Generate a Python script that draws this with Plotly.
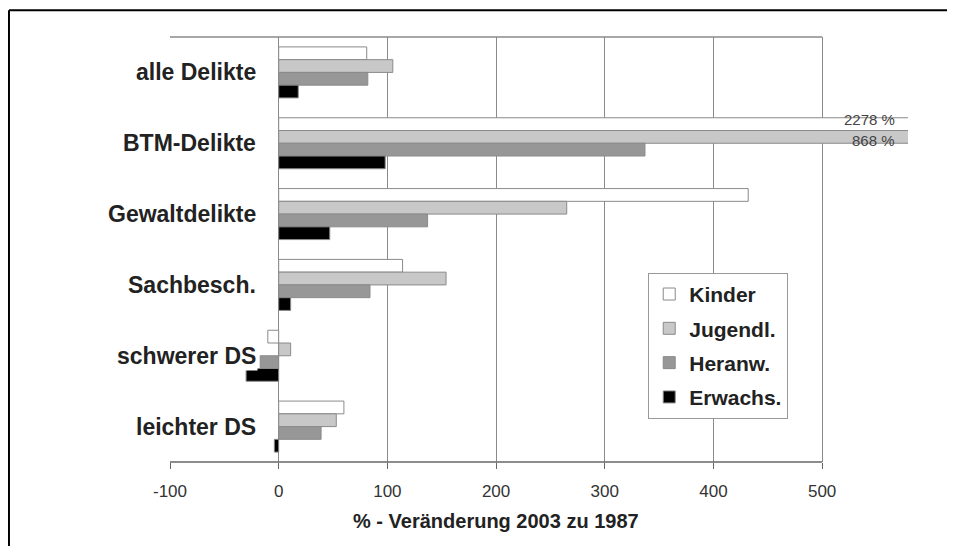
import plotly.graph_objects as go

kategorien = ["alle Delikte", "BTM-Delikte", "Gewaltdelikte", "Sachbesch.", "schwerer DS", "leichter DS"]
gruppen = ["Kinder", "Jugendl.", "Heranw.", "Erwachs."]

kinder = [81, 2278, 432, 114, -10, 60]
jugendl = [105, 868, 265, 154, 11, 53]
heranw = [82, 337, 137, 84, -17, 39]
erwachs = [18, 98, 47, 11, -30, -4]

werte = [kinder, jugendl, heranw, erwachs]
farben = ["#ffffff", "#c8c8c8", "#979797", "#000000"]

x_ticks = [-100, 0, 100, 200, 300, 400, 500]
x_ticktext = ["-100", "0", "100", "200", "300", "400", "500"]

font = "Liberation Sans, Arial, sans-serif"

fig = go.Figure()
for name, vals, col in zip(gruppen, werte, farben):
    fig.add_trace(go.Bar(
        y=kategorien, x=vals, name="<b>" + name + "</b>", orientation="h",
        marker=dict(color=col, line=dict(color="#8a8a8a", width=1)),
        legendgroup=name,
    ))

# Kategorienamen mit weissem Hintergrund (verdecken die linke Rahmenlinie)
for k in kategorien:
    fig.add_annotation(x=0.1192, xref="paper", y=k, yref="y", text="<b>" + k + "</b>",
                       showarrow=False, xanchor="right", bgcolor="white",
                       font=dict(size=23, color="#222"))

# Werte ausserhalb der Skala
fig.add_annotation(xref="paper", x=0.985, y="BTM-Delikte", yref="y", yshift=24,
                   text="2278 %", showarrow=False, xanchor="right",
                   font=dict(size=15, color="#444"))
fig.add_annotation(xref="paper", x=0.985, y="BTM-Delikte", yref="y", yshift=3,
                   text="868 %", showarrow=False, xanchor="right",
                   font=dict(size=15, color="#444"))

# Achsentitel, zentriert unter dem Bereich -100..500
fig.add_annotation(x=200, xref="x", y=0, yref="paper", yshift=-59, yanchor="middle",
                   text="<b>% - Veränderung 2003 zu 1987</b>", showarrow=False,
                   font=dict(size=20, color="#222"))

# Rahmen des Diagrammbereichs
fig.add_shape(type="line", xref="x", yref="paper", x0=-100, x1=500, y0=1, y1=1,
              line=dict(color="#8a8a8a", width=1.5))
fig.add_shape(type="line", xref="x", yref="paper", x0=-100, x1=500, y0=0, y1=0,
              line=dict(color="#666", width=1.5))
# aeusserer Rahmen
fig.add_shape(type="line", xref="paper", yref="paper", x0=-0.2182, x1=1.1, y0=1.063, y1=1.063,
              line=dict(color="black", width=2))
fig.add_shape(type="line", xref="paper", yref="paper", x0=-0.2182, x1=-0.2182, y0=1.063, y1=-0.3,
              line=dict(color="black", width=2))

fig.update_layout(
    width=939, height=538,
    margin=dict(l=162, r=39, t=29, b=84),
    paper_bgcolor="white", plot_bgcolor="white",
    barmode="group", bargap=0.28, bargroupgap=0,
    font=dict(family=font, color="#222"),
    legend=dict(x=0.648, y=0.445, xanchor="left", yanchor="top",
                bordercolor="#999", borderwidth=1, bgcolor="white",
                font=dict(size=21, color="#222"), traceorder="grouped",
                tracegroupgap=4),
    xaxis=dict(range=[-100, 579], tickvals=x_ticks, ticktext=x_ticktext, showgrid=True,
               gridcolor="#8a8a8a", gridwidth=1, zeroline=False,
               ticks="outside", ticklen=6, tickcolor="#666", ticklabelstandoff=8,
               tickfont=dict(size=17, color="#333")),
    yaxis=dict(autorange=False, range=[5.5, -0.5], showticklabels=False,
               showgrid=False, zeroline=False, showline=False),
)

fig.write_html("out.html")
